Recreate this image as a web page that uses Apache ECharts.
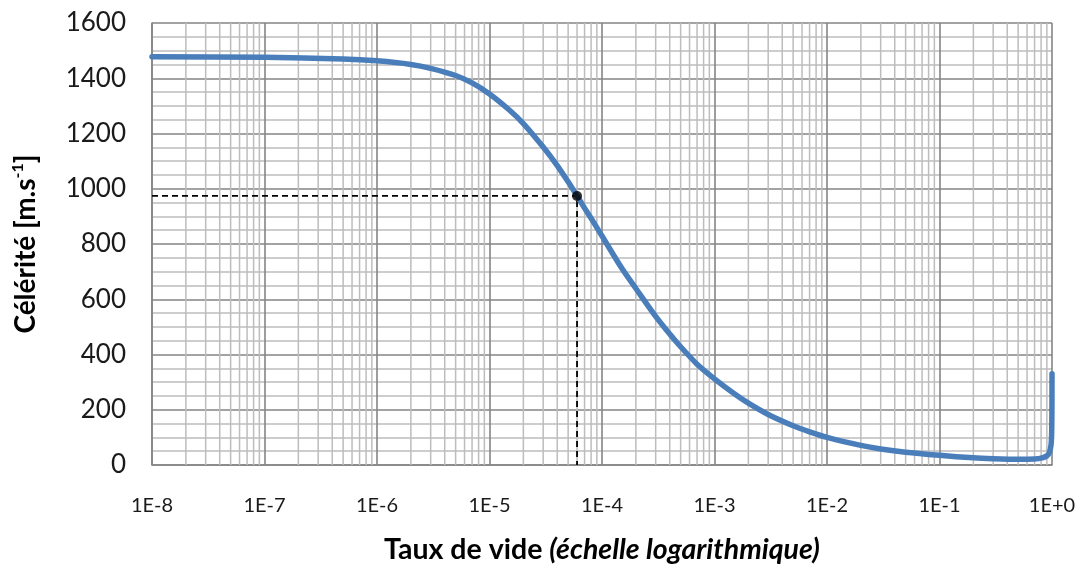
<!DOCTYPE html>
<html>
<head>
<meta charset="utf-8">
<style>
  html, body { margin: 0; padding: 0; background: #ffffff; }
  #chart { width: 1080px; height: 570px; }
</style>
<script src="https://cdn.jsdelivr.net/npm/echarts@6/dist/echarts.min.js"></script>
</head>
<body>
<div id="chart"></div>
<script>
// Void fraction (log scale) and the matching speed of sound in the mixture [m/s]
const voidFraction = [
  1e-8, 1e-7, 5e-7, 1e-6, 2e-6, 3e-6, 5e-6, 7e-6,
  1e-5, 1.5e-5, 2e-5, 3e-5, 4e-5, 5e-5, 6e-5, 7e-5, 8e-5,
  1e-4, 1.5e-4, 2e-4, 3e-4, 4e-4, 5e-4, 7e-4,
  1e-3, 1.5e-3, 2e-3, 3e-3, 5e-3, 7e-3,
  1e-2, 2e-2, 3e-2, 5e-2,
  0.1, 0.2, 0.3, 0.5, 0.7, 0.8, 0.9, 0.95, 0.98, 0.99, 0.995, 0.999, 1
];
const soundSpeed = [
  1478, 1476, 1470, 1463, 1450, 1436, 1410, 1383,
  1343, 1285, 1236, 1151, 1084, 1025, 974, 930, 893,
  829, 712, 639, 538, 474, 428, 365,
  312, 258, 224, 183, 142, 120,
  100, 71, 58, 46,
  35, 26, 23, 21, 22, 25, 33, 46, 72, 97, 135, 215, 330
];

// Highlighted operating point
const markedFraction = 6e-5;
const markedSpeed = 974;

// Axis tick labels
const xTickLabels = ['1E-8', '1E-7', '1E-6', '1E-5', '1E-4', '1E-3', '1E-2', '1E-1', '1E+0'];
const xMinExponent = -8;
const xMaxExponent = 0;
const yMin = 0;
const yMax = 1600;
const yStep = 200;

const FONT = 'Lato, "Open Sans", "Noto Sans", sans-serif';
const MAJOR_GRID = '#858585';
const MINOR_GRID = '#bdbdbd';

// Minor vertical grid lines at 2..9 within each decade
const minorX = [];
for (let e = xMinExponent; e < xMaxExponent; e++) {
  for (let k = 2; k <= 9; k++) minorX.push([k * Math.pow(10, e), yMin]);
}

const curve = voidFraction.map((a, i) => [a, soundSpeed[i]]);
const guide = [[Math.pow(10, xMinExponent), markedSpeed], [markedFraction, markedSpeed], [markedFraction, yMin]];

const chart = echarts.init(document.getElementById('chart'), null, { renderer: 'canvas' });
chart.setOption({
  animation: false,
  backgroundColor: '#ffffff',
  grid: { left: 152, right: 28, top: 23, bottom: 105, outerBoundsMode: 'none', containLabel: false },
  xAxis: {
    type: 'log',
    logBase: 10,
    min: Math.pow(10, xMinExponent),
    max: Math.pow(10, xMaxExponent),
    axisLine: { show: true, lineStyle: { color: MAJOR_GRID, width: 1.5 } },
    axisTick: { show: false },
    axisLabel: {
      show: true,
      margin: 31,
      color: '#1a1a1a',
      fontFamily: FONT,
      fontSize: 20,
      hideOverlap: false,
      formatter: v => xTickLabels[Math.round(Math.log10(v)) - xMinExponent]
    },
    splitLine: { show: true, lineStyle: { color: MAJOR_GRID, width: 1.6 } },
    name: '{b|Taux de vide }{i|(échelle logarithmique)}',
    nameLocation: 'middle',
    nameGap: 70,
    nameTextStyle: {
      rich: {
        b: { fontFamily: FONT, fontSize: 28.5, fontWeight: 'bold', color: '#000' },
        i: { fontFamily: FONT, fontSize: 28.5, fontWeight: 'bold', fontStyle: 'italic', color: '#000' }
      }
    }
  },
  yAxis: {
    type: 'value',
    min: yMin,
    max: yMax,
    interval: yStep,
    axisLine: { show: true, lineStyle: { color: MAJOR_GRID, width: 1.5 } },
    axisTick: { show: false },
    axisLabel: {
      margin: 26, color: '#1a1a1a', fontFamily: FONT, fontSize: 26,
      formatter: v => String(v)
    },
    splitLine: { show: true, lineStyle: { color: MAJOR_GRID, width: 1.6 } },
    minorTick: { show: false, splitNumber: 4 },
    minorSplitLine: { show: true, lineStyle: { color: MINOR_GRID, width: 1.5 } },
    name: '{a|Célérité [m.s}{s|-1}{a|]}',
    nameLocation: 'middle',
    nameRotate: 90,
    nameGap: 110,
    nameTextStyle: {
      rich: {
        a: { fontFamily: FONT, fontSize: 28, fontWeight: 'bold', color: '#000', lineHeight: 32 },
        s: { fontFamily: FONT, fontSize: 16, fontWeight: 'bold', color: '#000', verticalAlign: 'top', lineHeight: 32 }
      }
    }
  },
  series: [
    {
      // minor vertical grid lines
      type: 'custom',
      silent: true,
      z: 1,
      data: minorX,
      encode: { x: 0, y: 1 },
      renderItem: (params, api) => {
        const x = api.value(0);
        const p0 = api.coord([x, yMin]);
        const p1 = api.coord([x, yMax]);
        return {
          type: 'line',
          shape: { x1: p0[0], y1: p0[1], x2: p0[0], y2: p1[1] },
          style: { stroke: MINOR_GRID, lineWidth: 1.5 }
        };
      }
    },
    {
      type: 'line',
      data: guide,
      z: 3,
      showSymbol: false,
      symbol: 'none',
      silent: true,
      lineStyle: { color: '#000', width: 1.8, type: [6, 4] }
    },
    {
      type: 'line',
      data: curve,
      z: 4,
      showSymbol: false,
      symbol: 'none',
      smooth: 0.25,
      lineStyle: { color: '#4a7ebb', width: 5.5, cap: 'round', join: 'round' }
    },
    {
      type: 'scatter',
      data: [[markedFraction, markedSpeed]],
      z: 5,
      symbol: 'circle',
      symbolSize: 10,
      itemStyle: { color: '#000' }
    }
  ]
});
</script>
</body>
</html>
